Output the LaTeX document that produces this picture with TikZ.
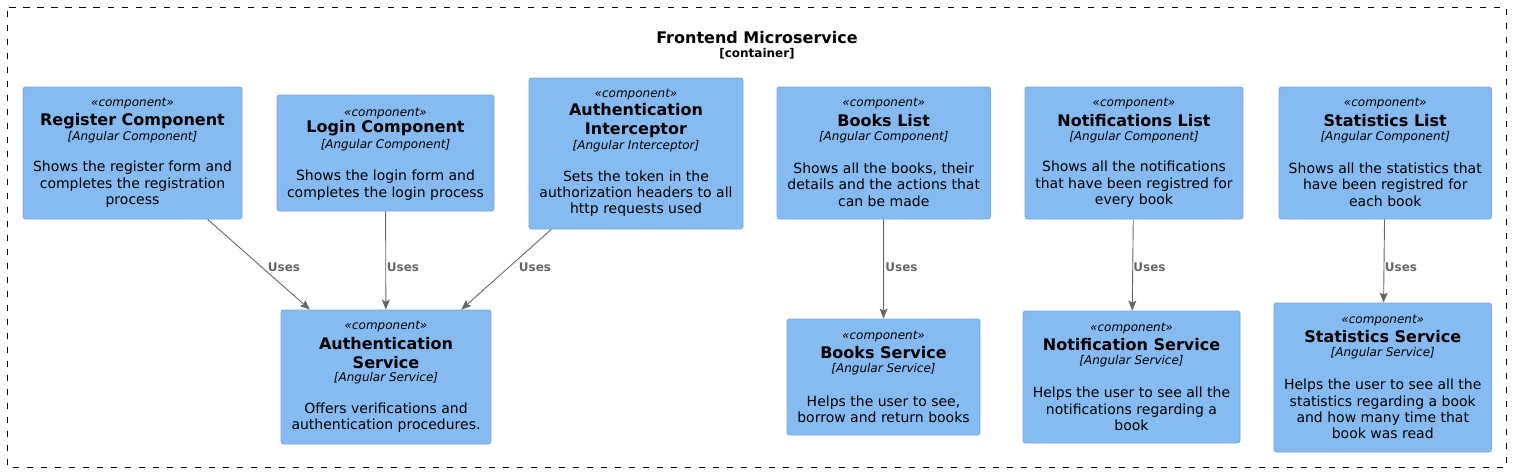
\documentclass[tikz,border=0pt]{standalone}
\usepackage{fontspec}
\setmainfont{DejaVu Sans}
\usetikzlibrary{arrows.meta}
\definecolor{boxfill}{HTML}{85BBF0}
\definecolor{boxline}{HTML}{78A8D8}
\definecolor{arrgray}{HTML}{666666}
\tikzset{
  box/.style={draw=boxline, fill=boxfill, rounded corners=2.5pt, line width=0.8pt, inner sep=0pt},
  stereo/.style={font=\fontsize{12}{14}\selectfont\itshape, inner sep=0pt},
  cname/.style={font=\fontsize{16}{18.5}\selectfont\bfseries, align=center, inner sep=0pt},
  tech/.style={font=\fontsize{12}{14}\selectfont\itshape, inner sep=0pt},
  desc/.style={font=\fontsize{14}{16.4}\selectfont, align=center, inner sep=0pt},
  arr/.style={draw=arrgray, line width=0.9pt, -{Stealth[length=10pt,width=8pt,inset=2pt]}},
  lbl/.style={font=\fontsize{12}{14}\selectfont\bfseries, text=arrgray, inner sep=0pt},
}
\begin{document}
\begin{tikzpicture}[x=1pt,y=-1pt]
\useasboundingbox (0,0) rectangle (1513,472);
\draw[black, line width=1pt, dash pattern=on 6.5pt off 7.5pt, dash phase=-3pt] (7,7.5) rectangle (1506.5,467);
\node[font=\fontsize{16}{18}\selectfont\bfseries, inner sep=0pt] (title) at (757,38) {Frontend Microservice};
\node[font=\fontsize{12}{14}\selectfont\bfseries, inner sep=0pt] (ttech) at (757,54) {[container]};

% boxes
\node[box, minimum width=219pt, minimum height=132pt] (reg) at (132.5,153) {};
\node[box, minimum width=217pt, minimum height=116pt] (login) at (385.5,153) {};
\node[box, minimum width=214pt, minimum height=151pt] (intc) at (636,153.5) {};
\node[box, minimum width=210pt, minimum height=134pt] (auth) at (386,377) {};
\node[box, minimum width=213.5pt, minimum height=132pt] (blist) at (883.75,153) {};
\node[box, minimum width=218pt, minimum height=132pt] (nlist) at (1134,153) {};
\node[box, minimum width=212.5pt, minimum height=132pt] (slist) at (1385.25,153) {};
\node[box, minimum width=193pt, minimum height=116pt] (bsvc) at (883.5,377) {};
\node[box, minimum width=217pt, minimum height=132pt] (nsvc) at (1131.5,377) {};
\node[box, minimum width=217.5pt, minimum height=149pt] (ssvc) at (1382.75,377.5) {};

% Register
\node[stereo] (reg-s) at (132.5,104) {«component»};
\node[cname] (reg-n) at (132.5,120.7) {Register Component};
\node[tech] (reg-t) at (132.5,136.7) {[Angular Component]};
\node[desc] (reg-d) at (132.5,184.5) {Shows the register form and\\completes the registration\\process};
% Login
\node[stereo] (login-s) at (385.5,113.3) {«component»};
\node[cname] (login-n) at (385.5,128.3) {Login Component};
\node[tech] (login-t) at (385.5,145) {[Angular Component]};
\node[desc] (login-d) at (385.5,185) {Shows the login form and\\completes the login process};
% Interceptor
\node[stereo] (intc-s) at (636,95) {«component»};
\node[cname] (intc-n) at (636,120.5) {Authentication\\Interceptor};
\node[tech] (intc-t) at (636,145.7) {[Angular Interceptor]};
\node[desc] (intc-d) at (636,193.7) {Sets the token in the\\authorization headers to all\\http requests used};
% Auth service
\node[stereo] (auth-s) at (386,326.7) {«component»};
\node[cname] (auth-n) at (386,352.8) {Authentication\\Service};
\node[tech] (auth-t) at (386,378.3) {[Angular Service]};
\node[desc] (auth-d) at (386,417.9) {Offers verifications and\\authentication procedures.};
% Books list
\node[stereo] (blist-s) at (883.75,104) {«component»};
\node[cname] (blist-n) at (883.75,120.7) {Books List};
\node[tech] (blist-t) at (883.75,136.7) {[Angular Component]};
\node[desc] (blist-d) at (883.75,184.5) {Shows all the books, their\\details and the actions that\\can be made};
% Notifications list
\node[stereo] (nlist-s) at (1134,104) {«component»};
\node[cname] (nlist-n) at (1134,120.7) {Notifications List};
\node[tech] (nlist-t) at (1134,136.7) {[Angular Component]};
\node[desc] (nlist-d) at (1134,184.5) {Shows all the notifications\\that have been registred for\\every book};
% Statistics list
\node[stereo] (slist-s) at (1385.25,104) {«component»};
\node[cname] (slist-n) at (1385.25,120.7) {Statistics List};
\node[tech] (slist-t) at (1385.25,136.7) {[Angular Component]};
\node[desc] (slist-d) at (1385.25,184.5) {Shows all the statistics that\\have been registred for\\each book};
% Books service
\node[stereo] (bsvc-s) at (883.5,337) {«component»};
\node[cname] (bsvc-n) at (883.5,352.7) {Books Service};
\node[tech] (bsvc-t) at (883.5,368.7) {[Angular Service]};
\node[desc] (bsvc-d) at (883.5,409.5) {Helps the user to see,\\borrow and return books};
% Notification service
\node[stereo] (nsvc-s) at (1131.5,329) {«component»};
\node[cname] (nsvc-n) at (1131.5,344.7) {Notification Service};
\node[tech] (nsvc-t) at (1131.5,361) {[Angular Service]};
\node[desc] (nsvc-d) at (1131.5,408.8) {Helps the user to see all the\\notifications regarding a\\book};
% Statistics service
\node[stereo] (ssvc-s) at (1382.75,320.7) {«component»};
\node[cname] (ssvc-n) at (1382.75,336.7) {Statistics Service};
\node[tech] (ssvc-t) at (1382.75,352.7) {[Angular Service]};
\node[desc] (ssvc-d) at (1382.75,409) {Helps the user to see all the\\statistics regarding a book\\and how many time that\\book was read};

% connectors
\draw[arr] (reg) -- (auth);
\draw[arr] (login) -- (auth);
\draw[arr] (intc) -- (auth);
\draw[arr] (blist) -- (bsvc);
\draw[arr] (nlist) -- (nsvc);
\draw[arr] (slist) -- (ssvc);
\node[lbl] (l1) at (284,267) {Uses};
\node[lbl] (l2) at (403,267) {Uses};
\node[lbl] (l3) at (535,267) {Uses};
\node[lbl] (l4) at (901.5,267) {Uses};
\node[lbl] (l5) at (1149.5,267) {Uses};
\node[lbl] (l6) at (1401,267) {Uses};
\end{tikzpicture}
\end{document}
